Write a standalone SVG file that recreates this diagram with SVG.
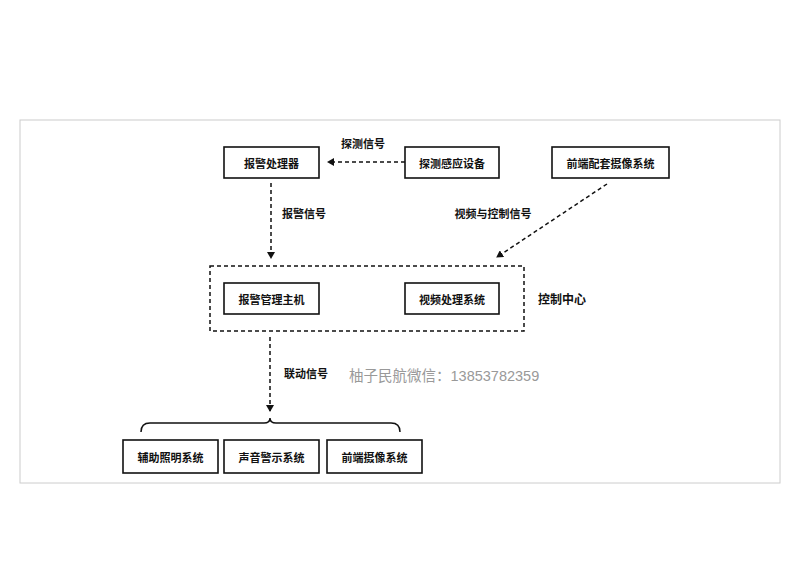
<svg xmlns="http://www.w3.org/2000/svg" width="800" height="566" viewBox="0 0 800 566">
<style>
.n{fill:#fff;stroke:#111;stroke-width:1.6}
.t{font-family:"Noto Sans CJK SC",sans-serif;font-size:11px;font-weight:bold;fill:#111;text-anchor:middle;dominant-baseline:central}
.d{fill:none;stroke:#111;stroke-width:1.5;stroke-dasharray:4,3}
</style>
<defs><marker id="a" markerWidth="8" markerHeight="8" refX="6" refY="4" orient="auto" markerUnits="userSpaceOnUse"><path d="M0,0L7,4L0,8z" fill="#111"/></marker></defs>
<rect width="800" height="566" fill="#fff"/>
<rect x="20" y="120" width="760" height="363" fill="none" stroke="#ccc" stroke-width="1"/>
<g id="n1"><rect class="n" x="224" y="147" width="95" height="31"/><text class="t" x="271.5" y="162.5">报警处理器</text></g>
<g id="n2"><rect class="n" x="405" y="147" width="94" height="31"/><text class="t" x="452" y="162.5">探测感应设备</text></g>
<g id="n3"><rect class="n" x="552" y="147" width="117" height="31"/><text class="t" x="610.5" y="162.5">前端配套摄像系统</text></g>
<g id="ctrl"><rect class="d" x="210" y="266" width="314" height="65"/><text class="t" x="562" y="298" style="font-size:12px">控制中心</text></g>
<g id="n4"><rect class="n" x="224" y="283" width="95" height="31"/><text class="t" x="271.5" y="298.5">报警管理主机</text></g>
<g id="n5"><rect class="n" x="405" y="283" width="94" height="31"/><text class="t" x="452" y="298.5">视频处理系统</text></g>
<g id="n6"><rect class="n" x="123" y="440" width="95" height="33"/><text class="t" x="170.5" y="456.5">辅助照明系统</text></g>
<g id="n7"><rect class="n" x="224" y="440" width="95" height="33"/><text class="t" x="271.5" y="456.5">声音警示系统</text></g>
<g id="n8"><rect class="n" x="327" y="440" width="95" height="33"/><text class="t" x="374.5" y="456.5">前端摄像系统</text></g>
<g id="edges">
<line class="d" x1="405" y1="162" x2="328" y2="162" marker-end="url(#a)"/>
<text class="t" x="363" y="143">探测信号</text>
<line class="d" x1="271" y1="183" x2="271" y2="258" marker-end="url(#a)"/>
<text class="t" x="304" y="213">报警信号</text>
<line class="d" x1="607" y1="184" x2="497" y2="257" marker-end="url(#a)"/>
<text class="t" x="493" y="213">视频与控制信号</text>
<line class="d" x1="270" y1="337" x2="270" y2="411" marker-end="url(#a)"/>
<text class="t" x="306" y="373">联动信号</text>
<path d="M141,432 Q141,423 150,423 L264,423 Q270,423 270,418 Q270,423 276,423 L391,423 Q400,423 400,432" fill="none" stroke="#111" stroke-width="1.5"/>
</g>
<text x="349" y="381" font-family="Liberation Sans,'Noto Sans CJK SC',sans-serif" font-size="14.5" fill="#999">柚子民航微信：13853782359</text>
</svg>
